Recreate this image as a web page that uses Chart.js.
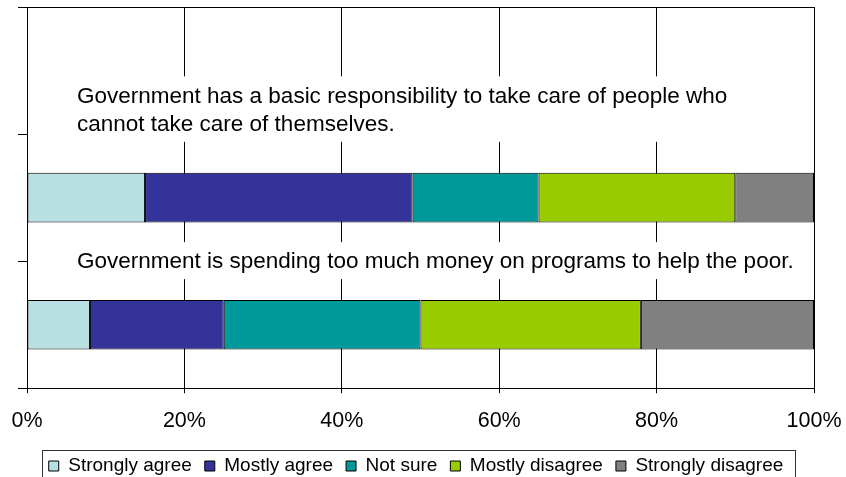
<!DOCTYPE html>
<html>
<head>
<meta charset="utf-8">
<title>Government and the poor</title>
<script src="https://cdn.jsdelivr.net/npm/chart.js@4/dist/chart.umd.min.js"></script>
<style>
    body { margin: 0; background: #fff; }
    canvas { display: block; }
</style>
</head>
<body>
<canvas id="opinion_chart" width="846" height="477"></canvas>
<script>
// Statements (first row is left empty on purpose)
const statements = [
    '',
    ['Government has a basic responsibility to take care of people who', 'cannot take care of themselves.'],
    ['Government is spending too much money on programs to help the poor.'],
];

// Answer shares in percent, one value per statement
const strongly_agree = [null, 15, 8];
const mostly_agree = [null, 34, 17];
const not_sure = [null, 16, 25];
const mostly_disagree = [null, 25, 28];
const strongly_disagree = [null, 10, 22];

const answer_names = ['Strongly agree', 'Mostly agree', 'Not sure', 'Mostly disagree', 'Strongly disagree'];
const answer_colors = ['#b8e0e3', '#333399', '#009999', '#99cc00', '#808080'];

const x_ticks = [0, 20, 40, 60, 80, 100];

const font_family = '"Liberation Sans", Arial, sans-serif';

// Statement text sits over the grid on a white box
const statementText = {
    id: 'statementText',
    beforeDatasetsDraw(chart, args, opts) {
        const ctx = chart.ctx;
        const y_scale = chart.scales.y;
        const left = chart.chartArea.left + opts.indent;
        ctx.save();
        ctx.font = opts.size + 'px ' + font_family;
        ctx.textBaseline = 'middle';
        ctx.textAlign = 'left';
        statements.forEach((lines, i) => {
            if (!lines || !lines.length) return;
            const n = lines.length;
            const mid = y_scale.getPixelForValue(i - 0.5) + opts.shift[i];
            const first = mid - (n - 1) * opts.lineHeight / 2;
            let widest = 0;
            lines.forEach(l => { widest = Math.max(widest, ctx.measureText(l).width); });
            ctx.fillStyle = '#fff';
            ctx.fillRect(left - 6, first - 20, widest + 12, (n - 1) * opts.lineHeight + 37);
            ctx.fillStyle = '#000';
            lines.forEach((l, k) => ctx.fillText(l, left, first + k * opts.lineHeight));
        });
        ctx.restore();
    }
};

// Frame round the plot and a box round the legend
const frames = {
    id: 'frames',
    afterDraw(chart) {
        const ctx = chart.ctx;
        const a = chart.chartArea;
        ctx.save();
        ctx.strokeStyle = '#000';
        ctx.lineWidth = 1;
        ctx.beginPath();
        ctx.moveTo(Math.round(a.left) + 0.5, Math.round(a.top) + 0.5);
        ctx.lineTo(Math.round(a.right) + 0.5, Math.round(a.top) + 0.5);
        ctx.lineTo(Math.round(a.right) + 0.5, Math.round(a.bottom) + 0.5);
        ctx.stroke();

        const boxes = chart.legend.legendHitBoxes;
        if (boxes && boxes.length) {
            const l = Math.min(...boxes.map(b => b.left)) - 7;
            const r = Math.max(...boxes.map(b => b.left + b.width)) + 11;
            const t = boxes[0].top - 6.5;
            ctx.strokeStyle = '#333';
            ctx.strokeRect(Math.round(l) + 0.5, Math.round(t) + 0.5, Math.round(r - l), 40);
        }
        ctx.restore();
    }
};

const series = [strongly_agree, mostly_agree, not_sure, mostly_disagree, strongly_disagree];

const opinion_data = {
    labels: statements,
    datasets: series.map((values, i) => ({
        label: answer_names[i],
        data: values,
        backgroundColor: answer_colors[i],
        borderColor: '#000',
        borderWidth: 1,
        borderSkipped: false,
        categoryPercentage: 1,
        barPercentage: 0.39,
    }))
};

const opinion_config = {
    type: 'bar',
    data: opinion_data,
    options: {
        responsive: false,
        animation: false,
        indexAxis: 'y',
        layout: {
            padding: {left: 18, right: 32, top: 7, bottom: -8.5}
        },
        plugins: {
            tooltip: {enabled: false},
            legend: {
                position: 'bottom',
                labels: {
                    boxWidth: 10,
                    boxHeight: 10,
                    padding: 13,
                    color: '#000',
                    font: {family: font_family, size: 19},
                }
            },
            statementText: {
                indent: 50,
                size: 22.5,
                lineHeight: 28.5,
                shift: [0, -23.5, 1],
            }
        },
        scales: {
            x: {
                stacked: true,
                min: 0,
                max: 100,
                afterBuildTicks: (scale) => {
                    scale.ticks = x_ticks.map(v => ({value: v}));
                },
                afterFit: (scale) => {
                    // end labels fit inside the layout padding already
                    scale.paddingLeft = 0;
                    scale.paddingRight = 0;
                    scale.height -= 5.5;
                },
                ticks: {
                    padding: 15,
                    color: '#000',
                    font: {family: font_family, size: 21.5},
                    callback: (v) => v + '%',
                },
                grid: {
                    color: '#000',
                    tickLength: 5,
                },
                border: {color: '#000'},
            },
            y: {
                stacked: true,
                ticks: {display: false},
                grid: {
                    color: '#000',
                    drawOnChartArea: false,
                    tickLength: 9,
                    offset: true,
                },
                border: {color: '#000'},
            }
        }
    },
    plugins: [statementText, frames]
};

const opinionChart = new Chart(
    document.getElementById('opinion_chart'),
    opinion_config
);
</script>
</body>
</html>
